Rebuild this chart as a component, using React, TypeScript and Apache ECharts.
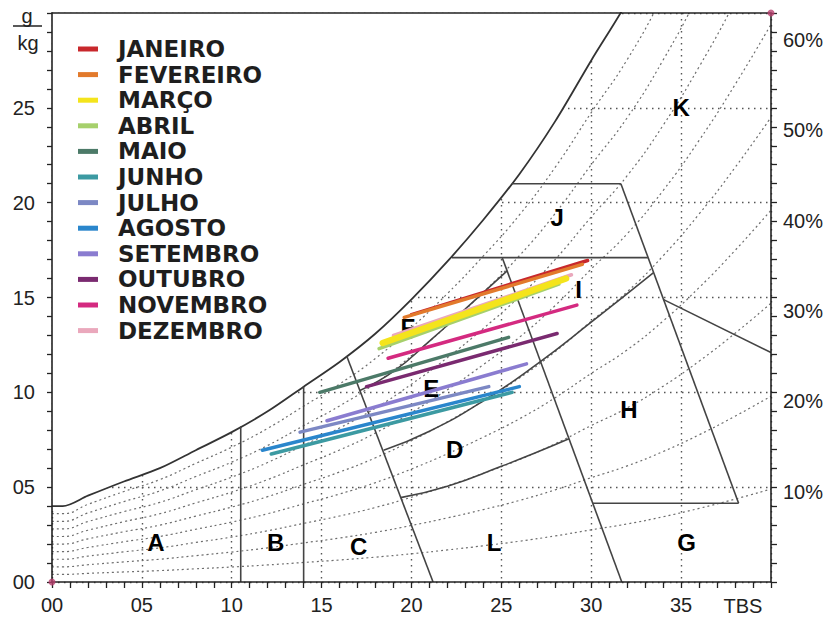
import { useEffect, useRef } from "react";
import * as echarts from "echarts";

// Saturation curve (100% RH): dry-bulb temperature (°C) vs humidity ratio (g/kg)
const satTemp = [0, 0.6, 2, 4, 6, 8, 10, 12, 14, 16, 18, 20, 22, 24, 26, 28, 30, 32, 34, 36, 38, 40];
const satHum = [4.0, 4.0, 4.55, 5.3, 6.0, 6.95, 7.9, 9.0, 10.3, 11.6, 13.1, 14.9, 16.9, 19.1, 21.5, 24.3, 27.5, 30.6, 34.4, 38.8, 43.7, 49.0];

// Relative humidity curves (fraction of saturation), drawn dotted
const rhLevels = [0.1, 0.2, 0.3, 0.4, 0.5, 0.6, 0.7, 0.8, 0.9];

// Zone boundaries as [TBS, g/kg] polylines
const boundaryB = [[10.5, 0], [10.5, 8.2]];
const boundaryC = [[14, 0], [14, 10.3]];
const boundaryComfortLeft = [[16.4, 11.9], [21.2, 0]];
const boundaryComfortRight = [[25.05, 17.1], [31.7, 0]];
const boundaryTop17 = [[22.25, 17.1], [33.15, 17.1]];
const boundaryTop21 = [[25.6, 21.0], [31.65, 21.0]];
const boundaryRight = [[31.65, 21.0], [38.2, 4.15]];
const boundaryG = [[30.1, 4.15], [38.2, 4.15]];
const boundaryK = [[34.0, 14.9], [40, 12.1]];
const boundaryRh80 = [[17.13, 10.1], [19, 11.1], [21, 12.7], [23, 14.4], [25.32, 16.4]];
const boundaryRh50 = [[18.45, 6.95], [21, 7.95], [24, 9.55], [27, 11.5], [30, 13.7], [33.45, 16.3]];
const boundaryRh30 = [[19.4, 4.45], [22, 5.05], [25, 6.1], [27, 6.85], [28.76, 7.55]];
const straightBoundaries = [boundaryB, boundaryC, boundaryComfortLeft, boundaryComfortRight, boundaryTop17, boundaryTop21, boundaryRight, boundaryG, boundaryK];
const curvedBoundaries = [boundaryRh80, boundaryRh50, boundaryRh30];

// Zone letters and their positions
const zoneNames = ["A", "B", "C", "D", "E", "F", "G", "H", "I", "J", "K", "L"];
const zoneTemp = [5.78, 12.44, 17.06, 22.4, 21.1, 19.8, 35.3, 32.1, 29.3, 28.1, 35.0, 24.6];
const zoneHum = [2.06, 2.06, 1.85, 6.96, 10.2, 13.4, 2.06, 9.07, 15.4, 19.2, 25.0, 2.06];

// Monthly climate lines: from (min TBS, g/kg) to (max TBS, g/kg)
const months = ["JANEIRO", "FEVEREIRO", "MARÇO", "ABRIL", "MAIO", "JUNHO", "JULHO", "AGOSTO", "SETEMBRO", "OUTUBRO", "NOVEMBRO", "DEZEMBRO"];
const monthColors = ["#c8282c", "#e27a2c", "#f4e41c", "#a6d06c", "#4c7a68", "#3c9aa2", "#7c88c4", "#2a86cc", "#8a7cd0", "#7a2a70", "#d42a80", "#eaa8bc"];
const monthTempMin = [20.0, 19.6, 18.4, 18.2, 14.9, 12.2, 13.8, 11.7, 15.3, 17.5, 18.7, 19.0];
const monthHumMin = [14.1, 13.95, 12.6, 12.3, 10.0, 6.75, 7.9, 6.95, 8.5, 10.3, 11.8, 13.0];
const monthTempMax = [29.8, 29.5, 28.6, 28.2, 25.4, 25.6, 24.3, 26.0, 26.4, 28.1, 29.2, 28.9];
const monthHumMax = [16.95, 16.75, 16.0, 15.7, 12.9, 10.0, 10.3, 10.3, 11.5, 13.1, 14.6, 16.2];
const monthDrawOrder = [3, 11, 0, 1, 2, 10, 4, 9, 8, 6, 5, 7];

// Tick labels
const xLabels = ["00", "05", "10", "15", "20", "25", "30", "35"];
const yLabels = ["00", "05", "10", "15", "20", "25"];
const rhLabels = ["10%", "20%", "30%", "40%", "50%", "60%"];

const axisFont = "'Liberation Sans', Arial, sans-serif";
const legendFont = "'DejaVu Sans', 'Liberation Sans', sans-serif";
const zoneFont = "'Liberation Sans', Arial, sans-serif";

export default function App() {
  const ref = useRef<HTMLDivElement>(null);

  useEffect(() => {
    if (!ref.current) return;
    const chart = echarts.init(ref.current, undefined, { renderer: "svg" });

    const axisLineStyle = { color: "#222", width: 1.6 };
    const tickStyle = { color: "#222", width: 1.3 };

    const series: any[] = [];

    rhLevels.forEach((rh) => {
      series.push({
        type: "line",
        name: `UR ${Math.round(rh * 100)}%`,
        data: satTemp.map((t, i) => [t, rh * satHum[i]]),
        smooth: true,
        symbol: "none",
        silent: true,
        z: 2,
        lineStyle: { color: "#6e6e6e", width: 1.2, type: [2, 3] },
      });
    });

    // saturation curve; the white area above it hides the grid outside the chart
    series.push({
      type: "line",
      name: "saturação",
      data: satTemp.map((t, i) => [t, satHum[i]]),
      smooth: 0.3,
      symbol: "none",
      silent: true,
      z: 3,
      lineStyle: { color: "#333", width: 1.8 },
      areaStyle: { color: "#ffffff", opacity: 1, origin: "end" },
    });

    straightBoundaries.forEach((pts) => {
      series.push({
        type: "line",
        data: pts,
        symbol: "none",
        silent: true,
        z: 4,
        lineStyle: { color: "#444", width: 1.6 },
      });
    });
    curvedBoundaries.forEach((pts) => {
      series.push({
        type: "line",
        data: pts,
        smooth: true,
        symbol: "none",
        silent: true,
        z: 4,
        lineStyle: { color: "#444", width: 1.6 },
      });
    });

    series.push({
      type: "scatter",
      name: "zonas",
      data: zoneNames.map((n, i) => ({ name: n, value: [zoneTemp[i], zoneHum[i]] })),
      symbolSize: 1,
      itemStyle: { color: "#ffffff", opacity: 1 },
      silent: true,
      z: 5,
      label: {
        show: true,
        position: "inside",
        formatter: "{b}",
        fontSize: 24,
        fontWeight: "bold",
        fontFamily: zoneFont,
        color: "#000",
        opacity: 1,
        textBorderWidth: 0,
      },
    });

    monthDrawOrder.forEach((i) => {
      series.push({
        type: "line",
        name: months[i],
        data: [
          [monthTempMin[i], monthHumMin[i]],
          [monthTempMax[i], monthHumMax[i]],
        ],
        symbol: "none",
        silent: true,
        z: 6,
        lineStyle: { color: monthColors[i], width: i === 2 ? 6.5 : 3.5, cap: "round" },
      });
    });

    series.push({
      type: "scatter",
      data: [[0, 0], [40, 30]],
      symbolSize: 7,
      clip: false,
      silent: true,
      z: 12,
      itemStyle: { color: "#b8406e" },
    });

    const graphic: any[] = [];
    months.forEach((m, i) => {
      const cy = 49 + i * 25.6;
      graphic.push({
        type: "rect",
        x: 78,
        y: cy - 2.5,
        z: 100,
        shape: { width: 20, height: 5 },
        style: { fill: monthColors[i] },
      });
      graphic.push({
        type: "text",
        x: 118,
        y: cy,
        z: 100,
        style: {
          text: m,
          fill: "#1e1e1e",
          font: `bold 23px ${legendFont}`,
          verticalAlign: "middle",
          align: "left",
        },
      });
    });
    graphic.push(
      { type: "text", x: 27, y: 16, z: 100, style: { text: "g", fill: "#222", font: `20px ${axisFont}`, align: "center", verticalAlign: "middle" } },
      { type: "line", z: 100, shape: { x1: 13, y1: 26, x2: 42, y2: 26 }, style: { stroke: "#222", lineWidth: 1.5 } },
      { type: "text", x: 28, y: 43, z: 100, style: { text: "kg", fill: "#222", font: `20px ${axisFont}`, align: "center", verticalAlign: "middle" } },
      { type: "text", x: 743, y: 606, z: 100, style: { text: "TBS", fill: "#222", font: `20px ${axisFont}`, align: "center", verticalAlign: "middle" } }
    );

    const option: any = {
      animation: false,
      backgroundColor: "#ffffff",
      grid: { left: 52, right: 53, top: 13, bottom: 36, containLabel: false },
      xAxis: [
        {
          type: "value", min: 0, max: 40, interval: 5, z: 0,
          axisLine: { show: false }, axisTick: { show: false }, axisLabel: { show: false },
          splitLine: { show: true, lineStyle: { color: "#555", width: 1.4, type: [1.5, 4.5] } },
        },
        {
          type: "value", min: 0, max: 40, interval: 5, position: "bottom", z: 10,
          axisLine: { show: true, onZero: false, lineStyle: axisLineStyle },
          axisTick: { show: true, length: 6, lineStyle: tickStyle },
          minorTick: { show: true, splitNumber: 5, length: 6, lineStyle: tickStyle },
          axisLabel: {
            margin: 13, color: "#222", fontSize: 20, fontFamily: axisFont,
            formatter: (v: number) => xLabels[Math.round(v / 5)] ?? "",
          },
          splitLine: { show: false },
        },
        {
          type: "value", min: 0, max: 40, position: "top", z: 10,
          axisLine: { show: true, onZero: false, lineStyle: axisLineStyle },
          axisTick: { show: false }, axisLabel: { show: false }, splitLine: { show: false },
        },
      ],
      yAxis: [
        {
          type: "value", min: 0, max: 30, interval: 5, z: 0,
          axisLine: { show: false }, axisTick: { show: false }, axisLabel: { show: false },
          splitLine: { show: true, lineStyle: { color: "#555", width: 1.4, type: [1.5, 4.5] } },
        },
        {
          type: "value", min: 0, max: 30, interval: 5, position: "left", z: 10,
          axisLine: { show: true, onZero: false, lineStyle: axisLineStyle },
          axisTick: { show: true, length: 5, lineStyle: tickStyle },
          minorTick: { show: true, splitNumber: 5, length: 5, lineStyle: tickStyle },
          axisLabel: {
            margin: 17, color: "#222", fontSize: 20, fontFamily: axisFont,
            formatter: (v: number) => yLabels[Math.round(v / 5)] ?? "",
          },
          splitLine: { show: false },
        },
        {
          type: "value", min: 0, max: 30, interval: 5, position: "right", z: 10,
          axisLine: { show: true, onZero: false, lineStyle: axisLineStyle },
          axisTick: { show: true, length: 6, lineStyle: tickStyle },
          minorTick: { show: true, splitNumber: 5, length: 6, lineStyle: tickStyle },
          axisLabel: { show: false },
          splitLine: { show: false },
        },
        {
          type: "value", min: 0, max: 63, interval: 10, position: "right", z: 10,
          axisLine: { show: false }, axisTick: { show: false }, splitLine: { show: false },
          axisLabel: {
            margin: 12, color: "#222", fontSize: 20, fontFamily: axisFont,
            formatter: (v: number) => (v > 0 && v % 10 === 0 ? rhLabels[v / 10 - 1] ?? "" : ""),
          },
        },
      ],
      series,
      graphic,
    };

    chart.setOption(option);
    return () => chart.dispose();
  }, []);

  return (
    <div
      ref={ref}
      style={{ position: "absolute", left: 0, top: 0, width: 826, height: 618, background: "#fff" }}
    />
  );
}
